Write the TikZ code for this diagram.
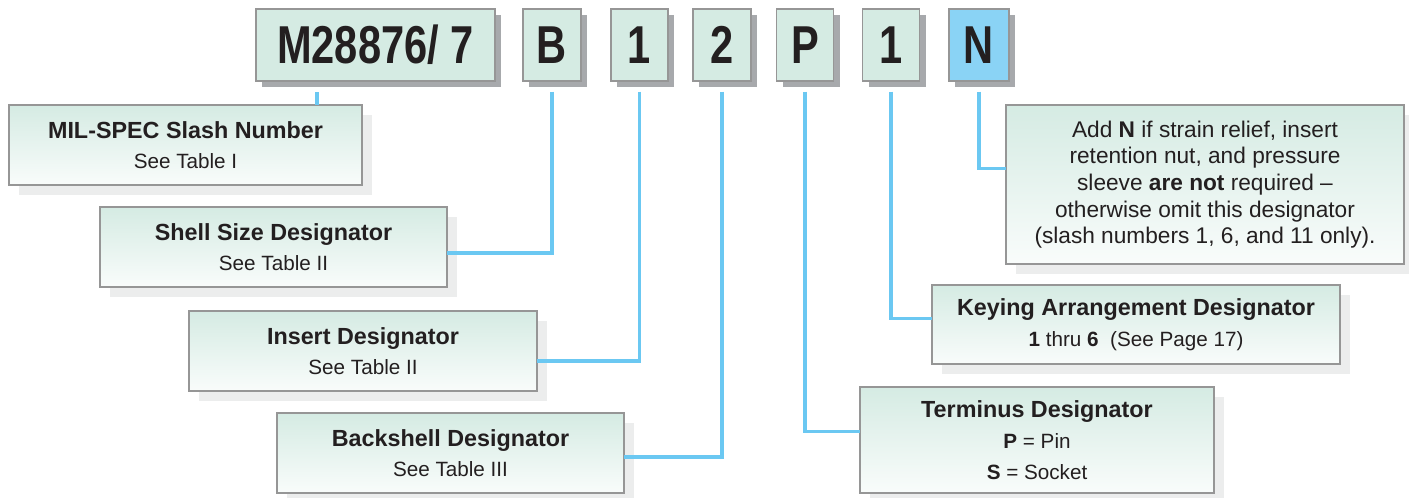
\documentclass[tikz,border=0pt]{standalone}
\usepackage{fontspec}
\setmainfont{Liberation Sans}
\usepackage{tikz}
\usetikzlibrary{
    calc,
    shadows,
    positioning,
}

\definecolor{mint}{RGB}{213,235,227}
\definecolor{mintlight}{RGB}{249,252,251}
\definecolor{frame}{RGB}{150,150,150}
\definecolor{shadowdark}{RGB}{167,169,172}
\definecolor{shadowlight}{RGB}{236,237,237}
\definecolor{nblue}{RGB}{138,211,245}
\definecolor{linkblue}{RGB}{107,200,242}
\definecolor{ink}{RGB}{35,31,32}

\newcommand{\cond}[1]{\scalebox{0.78}[1]{#1}}
\newcommand{\boxtitle}[1]{{\bfseries\fontsize{17.5}{23}\selectfont #1}}

\begin{document}
\begin{tikzpicture}[x=0.75pt, y=-0.75pt]

    \tikzstyle{commonBox}=[rectangle, draw=frame, line width=1pt, inner sep=0pt, outer sep=0pt, align=center, text=ink]
    \tikzstyle{partBox}=[commonBox, fill=mint, minimum height=72*\px, font=\fontsize{40}{40}\selectfont\bfseries, drop shadow={shadow xshift=4.5pt, shadow yshift=-4.5pt, fill=shadowdark, opacity=1}]
    \tikzstyle{optionBox}=[partBox, fill=nblue]
    \tikzstyle{legendBox}=[commonBox, top color=mint, bottom color=mintlight, minimum height=80*\px, font=\fontsize{15.5}{23}\selectfont, drop shadow={shadow xshift=7.5pt, shadow yshift=-7.5pt, fill=shadowlight, opacity=1}]
    \tikzstyle{link}=[draw=linkblue, line width=2.3pt]

    \def \px {0.75pt}
    \def \drop {8pt}

    \useasboundingbox (0,0) rectangle (1409,497);

    \begin{scope}
        % Part number
        \node at (375.5, 45) [partBox, minimum width=239*\px]   (M)   {\cond{M28876/ 7}};
        \node at (552, 45)   [partBox, minimum width=58*\px]    (B)   {\cond{B}};
        \node at (639.5, 45) [partBox, minimum width=57*\px]    (One) {\cond{1}};
        \node at (722, 45)   [partBox, minimum width=58*\px]    (Two) {\cond{2}};
        \node at (805, 45)   [partBox, minimum width=57*\px]    (P)   {\cond{P}};
        \node at (891, 45)   [partBox, minimum width=57*\px]    (Key) {\cond{1}};
        \node at (979, 45)   [optionBox, minimum width=60*\px]  (N)   {\cond{N}};

        % Legends
        \node at (185.5, 145) [legendBox, minimum width=353*\px] (MIL)
            {\boxtitle{MIL-SPEC Slash Number}\\ See Table I};
        \node at (273.5, 247) [legendBox, minimum width=347*\px] (SSD)
            {\boxtitle{Shell Size Designator}\\ See Table II};
        \node at (363, 351)   [legendBox, minimum width=348*\px] (INS)
            {\boxtitle{Insert Designator}\\ See Table II};
        \node at (450.5, 453) [legendBox, minimum width=347*\px] (BSD)
            {\boxtitle{Backshell Designator}\\ See Table III};
        \node at (1037, 440)  [legendBox, minimum width=354*\px, minimum height=106*\px] (TERM)
            {\boxtitle{Terminus Designator}\\ \textbf{P} = Pin\\ \textbf{S} = Socket};
        \node at (1136, 324.5) [legendBox, minimum width=408*\px, minimum height=79*\px] (KEY)
            {\boxtitle{Keying Arrangement Designator}\\ \textbf{1} thru \textbf{6}\ \ (See Page 17)};
        \node at (1205, 184.5) [legendBox, minimum width=398*\px, minimum height=159*\px, font=\fontsize{17}{20}\selectfont] (OMIT)
            {Add \textbf{N} if strain relief, insert\\ retention nut, and pressure\\ sleeve \textbf{are not} required --\\ otherwise omit this designator\\ (slash numbers 1, 6, and 11 only).};

        % Leaders
        \coordinate (Mtip) at (317, 92);
        \draw [link] (Mtip) -- (Mtip |- MIL.north);
        \draw [link] ([yshift=-\drop]B.south)   |- ($(SSD.north east)!0.575!(SSD.south east)$);
        \draw [link] ([yshift=-\drop]One.south) |- ($(INS.north east)!0.625!(INS.south east)$);
        \draw [link] ([yshift=-\drop]Two.south) |- ($(BSD.north east)!0.55!(BSD.south east)$);
        \draw [link] ([yshift=-\drop]P.south)   |- ($(TERM.north west)!0.42!(TERM.south west)$);
        \draw [link] ([yshift=-\drop]Key.south) |- ($(KEY.north west)!0.42!(KEY.south west)$);
        \draw [link] ([yshift=-\drop]N.south)   |- ($(OMIT.north west)!0.40!(OMIT.south west)$);
    \end{scope}

\end{tikzpicture}
\end{document}
